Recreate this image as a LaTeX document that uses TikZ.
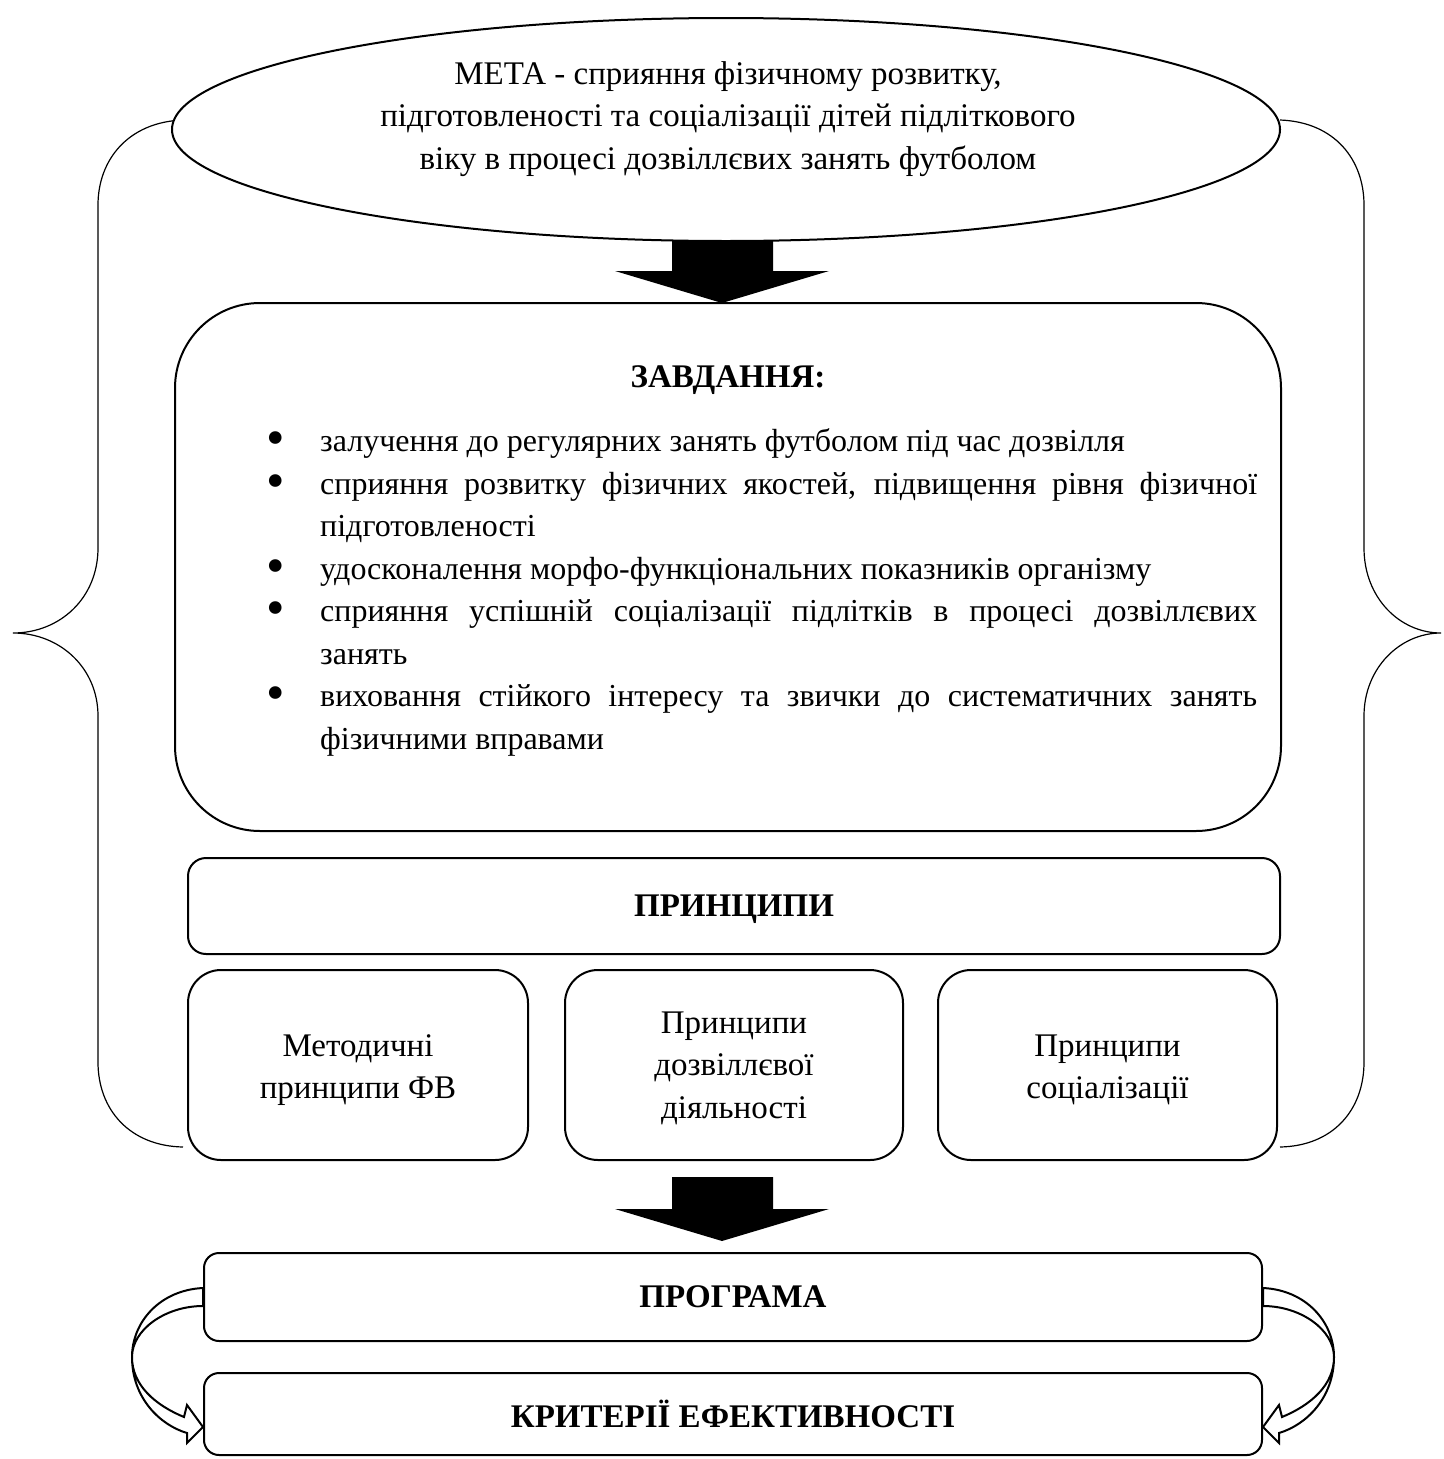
\documentclass[tikz,border=0pt]{standalone}
\usepackage{fontspec}
\usepackage{graphicx}
\setmainfont{Liberation Serif}
\newfontfamily\tnr{Liberation Serif}
\usetikzlibrary{shapes.geometric,calc}
\newcommand\fs{\tnr\fontsize{33}{42.5}\selectfont}
\newcommand\fsl{\tnr\fontsize{32}{42.5}\selectfont}
\newcommand\bitem[1]{\noindent\hangindent=54pt\hangafter=1\makebox[54pt][l]{\raisebox{-0.12em}{\scalebox{1.65}{•}}}#1\par}
\newcommand\fatarrow[2]{%
  \fill let \p1=(#1), \p2=(#2) in
    ({\x2-50pt},{\y1}) -- ({\x2+51pt},{\y1}) -- ({\x2+51pt},{\y2+32pt}) --
    ({\x2+107pt},{\y2+32pt}) -- (\x2,\y2) -- ({\x2-107pt},{\y2+32pt}) --
    ({\x2-50pt},{\y2+32pt}) -- cycle;}
\begin{document}
\begin{tikzpicture}[x=1pt,y=-1pt,
  box/.style={draw,line width=2pt,fill=white,inner sep=0pt,align=center,font=\fs},
  txt/.style={inner sep=0pt,align=center,font=\fs},
  brace/.style={draw,line width=1.2pt},
  curvarrow/.style={draw,line width=2pt,fill=white,line join=miter}]
\useasboundingbox (0,0) rectangle (1443,1459);

% braces
\draw[brace] (183,120) .. controls (128,122) and (98,160) .. (98,205) -- (98,548)
  .. controls (98,598) and (60,633) .. (13,633)
  .. controls (60,633) and (98,668) .. (98,716) -- (98,1062)
  .. controls (98,1110) and (130,1146) .. (183,1147);
\draw[brace] (1280,120) .. controls (1335,122) and (1364,160) .. (1364,205) -- (1364,548)
  .. controls (1364,598) and (1400,633) .. (1441,633)
  .. controls (1400,633) and (1364,668) .. (1364,716) -- (1364,1062)
  .. controls (1364,1110) and (1333,1146) .. (1280,1147);

% goal
\node[box,ellipse,minimum width=1108pt,minimum height=223pt] (goal) at (726,129.5) {};
\node[txt] (goaltext) at (728,119)
  {МЕТА - сприяння фізичному розвитку,\\
   підготовленості та соціалізації дітей підліткового\\
   віку в процесі дозвіллєвих занять футболом};

% tasks
\node[box,rounded corners=85pt,minimum width=1106pt,minimum height=528pt] (tasks) at (728,567) {};
\coordinate (a1top) at (722,240);
\coordinate (a1tip) at (722,303);
\fatarrow{a1top}{a1tip}
\node[txt,font=\fs\bfseries] (taskhead) at (728,380) {ЗАВДАННЯ:};
\node[anchor=north west,inner sep=0pt,text width=991pt,align=justify,font=\fsl] (list) at (266,428.8) {%
\hyphenpenalty=10000
\bitem{залучення до регулярних занять футболом під час дозвілля}
\bitem{сприяння розвитку фізичних якостей, підвищення рівня фізичної\linebreak підготовленості}
\bitem{удосконалення морфо-функціональних показників організму}
\bitem{сприяння успішній соціалізації підлітків в процесі дозвіллєвих\linebreak занять}
\bitem{виховання стійкого інтересу та звички до систематичних занять\linebreak фізичними вправами}};

% principles
\node[box,rounded corners=18pt,minimum width=1092pt,minimum height=96pt] (princ) at (734,906) {};
\node[txt,font=\fs\bfseries] (princt) at (734,909) {ПРИНЦИПИ};
\node[box,rounded corners=33pt,minimum width=340pt,minimum height=190pt] (sub1) at (358,1065) {};
\node[box,rounded corners=33pt,minimum width=338pt,minimum height=190pt] (sub2) at (734,1065) {};
\node[box,rounded corners=33pt,minimum width=339pt,minimum height=190pt] (sub3) at (1107.5,1065) {};
\node[txt] (sub1t) at ([yshift=-5pt]sub1.center) {Методичні\\принципи ФВ};
\node[txt] (sub2t) at ([yshift=-3pt]sub2.center) {Принципи\\дозвіллєвої\\діяльності};
\node[txt] (sub3t) at ([yshift=-5pt]sub3.center) {Принципи\\соціалізації};

% arrow down
\coordinate (a2top) at (722,1177);
\coordinate (a2tip) at (722,1241);
\fatarrow{a2top}{a2tip}

% program & criteria
\node[box,rounded corners=15pt,minimum width=1058pt,minimum height=88pt,font=\fs\bfseries] (prog) at (733,1297) {ПРОГРАМА};
\node[box,rounded corners=15pt,minimum width=1058pt,minimum height=82pt,font=\fs\bfseries] (crit) at (733,1414) {КРИТЕРІЇ ЕФЕКТИВНОСТІ};

% curved arrows
\draw[curvarrow] (prog.west |- 0,1288) .. controls (160,1290) and (132,1322) .. (132,1357)
  .. controls (132,1398) and (160,1425) .. (187,1433) -- (187,1443) -- (crit.west |- 0,1427)
  -- (187,1405) -- (184,1417) .. controls (155,1405) and (132,1385) .. (132,1357)
  .. controls (132,1330) and (165,1306) .. (prog.west |- 0,1306) -- cycle;
\draw[curvarrow] (prog.east |- 0,1288) .. controls (1306,1290) and (1334,1322) .. (1334,1357)
  .. controls (1334,1398) and (1306,1425) .. (1279,1433) -- (1279,1443) -- (crit.east |- 0,1427)
  -- (1279,1405) -- (1282,1417) .. controls (1311,1405) and (1334,1385) .. (1334,1357)
  .. controls (1334,1330) and (1301,1306) .. (prog.east |- 0,1306) -- cycle;
\end{tikzpicture}
\end{document}
